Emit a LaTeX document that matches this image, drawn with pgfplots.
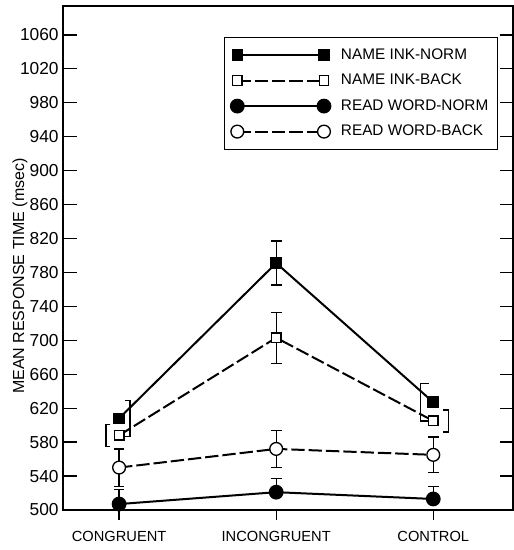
\documentclass[border=0pt]{standalone}
\usepackage{fontspec}
\setmainfont{Liberation Sans}
\usepackage{pgfplots}
\pgfplotsset{compat=1.18}

\begin{document}
\begin{tikzpicture}
\begin{axis}[name=ax, scale only axis, width=337.3pt, height=378pt,
  xmin=-0.355, xmax=2.508, ymin=500, ymax=1094,
  clip=false,
  axis line style={line width=1.4pt},
  xtick={0,1,2}, xticklabels={CONGRUENT,INCONGRUENT,CONTROL},
  xtick style={draw=none},
  ytick={500,540,...,1060},
  tick align=inside, major tick length=10pt,
  ytick style={line width=1pt, black},
  /pgf/number format/assume math mode=true,
  /pgf/number format/1000 sep={},
  yticklabel style={font=\fontsize{13}{15}\selectfont},
  xticklabel style={font=\fontsize{11}{13}\selectfont, yshift=-12.5pt},
  ylabel={MEAN RESPONSE TIME (msec)},
  every axis y label/.style={at={(rel axis cs:0,0.464)}, xshift=-32.5pt, rotate=90, anchor=center, font=\fontsize{12}{14}\selectfont},
  legend cell align=left,
  legend image code/.code={\draw[#1] plot coordinates {(0pt,0pt) (65pt,0pt)}; \path (75pt,0pt);},
  legend style={at={(rel axis cs:1,1)}, anchor=north east, xshift=-11pt, yshift=-23pt,
    draw=black, line width=1.1pt, font=\fontsize{11.5}{13}\selectfont,
    nodes={font=\fontsize{11.5}{13}\selectfont, inner sep=2pt},
    inner xsep=5pt, inner ysep=6.5pt, row sep=5.6pt},
  error bars/error bar style={line width=1pt, black, solid},
  error bars/error mark options={line width=1pt, mark size=4pt, rotate=90},
]
% centered error bars
\addplot[forget plot, draw=none, mark=none, error bars/.cd, y dir=both, y explicit]
  coordinates {(1,791) +- (0,26)};
\addplot[forget plot, draw=none, mark=none, error bars/.cd, y dir=both, y explicit]
  coordinates {(1,703) +- (0,30)};
\addplot[forget plot, draw=none, mark=none, error bars/.cd, y dir=both, y explicit]
  coordinates {(0,550) +- (0,22) (1,572) +- (0,22) (2,565) +- (0,21)};
\addplot[forget plot, draw=none, mark=none, error bars/.cd, y dir=plus, y explicit]
  coordinates {(0,507) +- (0,17) (1,521) +- (0,16) (2,513) +- (0,15)};
% bracket error bars
\addplot[forget plot, black, line width=1pt] coordinates {(0.038,629) (0.070,629) (0.070,587) (0.038,587)};
\addplot[forget plot, black, line width=1pt] coordinates {(-0.055,601) (-0.083,601) (-0.083,575) (-0.055,575)};
\addplot[forget plot, black, line width=1pt] coordinates {(1.970,649) (1.917,649) (1.917,605) (1.970,605)};
\addplot[forget plot, black, line width=1pt] coordinates {(2.064,618) (2.096,618) (2.096,592) (2.064,592)};
% series
\addplot[black, line width=1.5pt, mark=square*, mark size=3.6pt, mark options={solid, fill=black}]
  coordinates {(0,608) (1,791) (2,627)};
\addlegendentry{NAME INK-NORM}
\addplot[black, line width=1.5pt, dash pattern=on 10pt off 3pt, mark=square*, mark size=3.6pt, mark options={solid, fill=white, line width=1pt}]
  coordinates {(0,588) (1,703) (2,605)};
\addlegendentry{NAME INK-BACK}
\addplot[black, line width=1.5pt, mark=*, mark size=4.8pt, mark options={solid, fill=black}]
  coordinates {(0,507) (1,521) (2,513)};
\addlegendentry{READ WORD-NORM}
\addplot[black, line width=1.5pt, dash pattern=on 10pt off 3pt, mark=*, mark size=4.8pt, mark options={solid, fill=white, line width=1pt}]
  coordinates {(0,550) (1,572) (2,565)};
\addlegendentry{READ WORD-BACK}
% x ticks (outward)
\draw[line width=1pt] (axis cs:0,500) -- ++(0pt,-7.5pt);
\draw[line width=1pt] (axis cs:1,500) -- ++(0pt,-7.5pt);
\draw[line width=1pt] (axis cs:2,500) -- ++(0pt,-7.5pt);
\end{axis}
\pgfresetboundingbox
\path (ax.south west) ++(-47.5pt,-30pt) coordinate (bbl);
\path (ax.north east) ++(-1.5pt,4.5pt) coordinate (bur);
\useasboundingbox (bbl) rectangle (bur);
\end{tikzpicture}
\end{document}
